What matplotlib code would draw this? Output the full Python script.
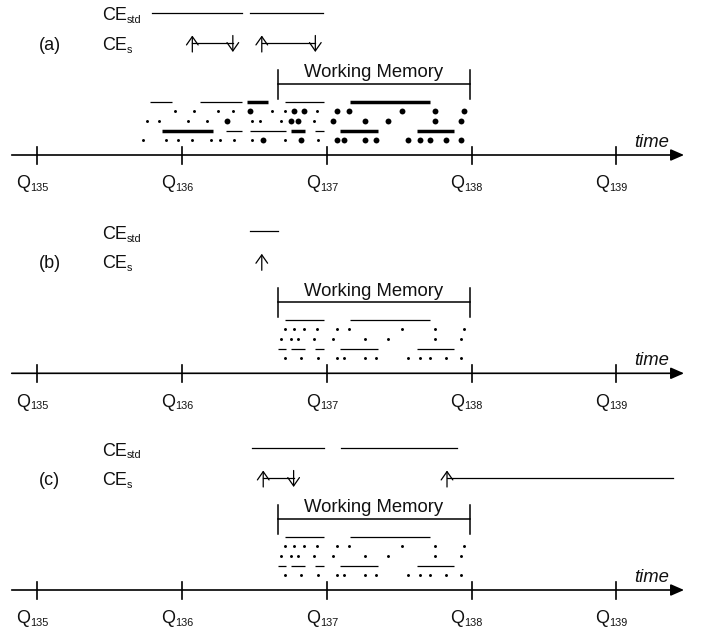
import matplotlib
matplotlib.use("Agg")
import matplotlib.pyplot as plt

plt.rcParams["font.family"] = ["Liberation Sans", "DejaVu Sans"]

# --- data: times in quarters -------------------------------------------
QUARTERS = [135, 136, 137, 138, 139]
Q_SUBS = ["135", "136", "137", "138", "139"]
PANELS = ["(a)", "(b)", "(c)"]

WM_START = 136.66
WM_END = 137.99

# rows of single events (dots); big = highlighted in panel (a)
ROW_B_T = [135.95, 136.08, 136.25, 136.35, 136.47, 136.62, 136.71, 136.77,
           136.84, 136.93, 137.07, 137.15, 137.52, 137.75, 137.95]
ROW_B_BIG = [0, 0, 0, 0, 1, 0, 0, 1, 1, 0, 1, 1, 1, 1, 1]

ROW_C_T = [135.76, 135.84, 136.04, 136.17, 136.31, 136.48, 136.54, 136.68,
           136.75, 136.80, 136.91, 137.04, 137.26, 137.42, 137.75, 137.93]
ROW_C_BIG = [0, 0, 0, 0, 1, 0, 0, 0, 1, 1, 0, 1, 1, 1, 1, 1]

ROW_E_T = [135.73, 135.89, 135.97, 136.07, 136.20, 136.26, 136.36, 136.48,
           136.56, 136.71, 136.82, 136.94, 137.07, 137.12, 137.26, 137.34,
           137.56, 137.64, 137.71, 137.82, 137.93]
ROW_E_BIG = [0, 0, 0, 0, 0, 0, 0, 0, 1, 0, 1, 0, 1, 1, 1, 1, 1, 1, 1, 1, 1]

# rows of interval events (segments)
ROW_A_START = [135.78, 136.12, 136.45, 136.71, 137.16]
ROW_A_END = [135.93, 136.41, 136.59, 136.98, 137.71]
ROW_A_BIG = [0, 0, 1, 0, 1]

ROW_D_START = [135.86, 136.30, 136.47, 136.75, 136.92, 137.09, 137.62]
ROW_D_END = [136.21, 136.41, 136.72, 136.85, 136.98, 137.35, 137.88]
ROW_D_BIG = [1, 0, 0, 1, 0, 1, 1]

# CE_std intervals per panel
CE_STD_START = [[135.79, 136.47], [136.47], [136.48, 137.10]]
CE_STD_END = [[136.41, 136.97], [136.66], [136.98, 137.90]]

# CE_s intervals per panel (None = no closing arrow)
CE_S_START = [[136.07, 136.55], [136.55], [136.56, 137.83]]
CE_S_END = [[136.35, 136.92], [None], [136.77, 139.39]]
CE_S_CLOSED = [[1, 1], [0], [1, 0]]

# --- layout (pixel units on y, y grows downwards) ------------------------
BASES = [155, 373.3, 590]
ROW_OFF = {"A": 53.5, "B": 44, "C": 34.5, "D": 24.5, "E": 15}
PX = 0.72  # points per pixel at dpi 100

fig = plt.figure(figsize=(7.03, 6.33), dpi=100)
ax = fig.add_axes([0, 0, 1, 1])
ax.set_xlim(134.741, 139.599)
ax.set_ylim(633, 0)
ax.axis("off")
renderer = fig.canvas.get_renderer()


def sub_text(x, y, main, sub, size=13, subsize=7.8, dx_px=0):
    t = ax.annotate(main, (x, y), xytext=(dx_px * PX, 0),
                    textcoords="offset points", fontsize=size,
                    va="baseline", ha="left", color="#111111")
    w = t.get_window_extent(renderer).width
    ax.annotate(sub, (x, y), xytext=((dx_px + w) * PX, -2.0),
                textcoords="offset points", fontsize=subsize,
                va="baseline", ha="left", color="#111111")


def dots(times, big, y, panel_a, lo):
    small_t = [t for t, b in zip(times, big) if t >= lo and (not b or not panel_a)]
    big_t = [t for t, b in zip(times, big) if t >= lo and b and panel_a]
    ax.scatter(small_t, [y] * len(small_t), s=4.5, color="black", lw=0)
    if big_t:
        ax.scatter(big_t, [y] * len(big_t), s=18, color="black", lw=0)


def segs(starts, ends, big, y, panel_a, lo):
    for s, e, b in zip(starts, ends, big):
        if e <= lo:
            continue
        s = max(s, lo)
        lw = 2.5 if (b and panel_a) else 0.9
        ax.plot([s, e], [y, y], color="black", lw=lw,
                solid_capstyle="butt")


def up_arrow(x, y0, y1):
    ax.annotate("", xy=(x, y1), xytext=(x, y0),
                arrowprops=dict(arrowstyle="->,head_length=0.6,head_width=0.42",
                                lw=0.9, color="black", shrinkA=0, shrinkB=0,
                                mutation_scale=10))


for i, base in enumerate(BASES):
    panel_a = i == 0
    lo = 0 if panel_a else WM_START

    # time axis
    ax.annotate("", xy=(139.468, base), xytext=(134.822, base),
                arrowprops=dict(arrowstyle="-|>,head_length=0.8,head_width=0.35",
                                lw=1.2, color="black", shrinkA=0, shrinkB=0,
                                mutation_scale=10))
    for q, sub in zip(QUARTERS, Q_SUBS):
        ax.plot([q, q], [base - 8.5, base + 8.5], color="black", lw=1.2)
        sub_text(q, base + 33.3, "Q", sub, size=13, dx_px=-21)
    ax.text(139.124, base - 8.3, "time", fontsize=13.3, style="italic",
            va="baseline", ha="left", color="#111111")

    # events
    segs(ROW_A_START, ROW_A_END, ROW_A_BIG, base - ROW_OFF["A"], panel_a, lo)
    dots(ROW_B_T, ROW_B_BIG, base - ROW_OFF["B"], panel_a, lo)
    dots(ROW_C_T, ROW_C_BIG, base - ROW_OFF["C"], panel_a, lo)
    segs(ROW_D_START, ROW_D_END, ROW_D_BIG, base - ROW_OFF["D"], panel_a, lo)
    dots(ROW_E_T, ROW_E_BIG, base - ROW_OFF["E"], panel_a, lo)

    # working memory bracket
    ax.plot([WM_START, WM_START], [base - 85.5, base - 56.5], color="black", lw=1.1)
    ax.plot([WM_END, WM_END], [base - 85.5, base - 56.5], color="black", lw=1.1)
    ax.plot([WM_START, WM_END], [base - 71, base - 71], color="black", lw=1.1)
    ax.text((WM_START + WM_END) / 2, base - 77.7, "Working Memory",
            fontsize=13.3, ha="center", va="baseline", color="#111111")

    # labels
    ax.text(135.012, base - 105, PANELS[i], fontsize=13, va="baseline",
            ha="left", color="#111111")
    sub_text(135.444, base - 134.5, "CE", "std")
    sub_text(135.444, base - 105, "CE", "s")

    # CE_std
    for s, e in zip(CE_STD_START[i], CE_STD_END[i]):
        ax.plot([s, e], [base - 142.5, base - 142.5], color="black", lw=0.9)

    # CE_s
    for s, e, closed in zip(CE_S_START[i], CE_S_END[i], CE_S_CLOSED[i]):
        up_arrow(s, base - 103, base - 119.5)
        if e is None:
            continue
        ax.plot([s, e], [base - 111.7, base - 111.7], color="black", lw=0.9)
        if closed:
            up_arrow(e, base - 119.5, base - 103)

fig.savefig("out.png", dpi=100)
